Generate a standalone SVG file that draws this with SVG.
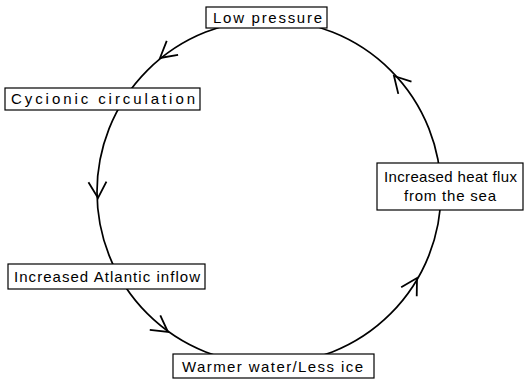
<svg xmlns="http://www.w3.org/2000/svg" width="529" height="382" viewBox="0 0 529 382">
<style>
.box{fill:#fff;stroke:#000;stroke-width:1.2}
.t{font-family:"Liberation Sans","DejaVu Sans",sans-serif;font-size:15px;fill:#000}
.c{fill:none;stroke:#000;stroke-width:1.7}
.ah{fill:none;stroke:#000;stroke-width:1.8;stroke-linejoin:miter}
</style>
<rect width="529" height="382" fill="#fff"/>
<g id="connectors">
<circle class="c" cx="269" cy="192" r="172"/>
<path class="ah" d="M-16,-9 L0,0 L-16,9" transform="translate(160,58) rotate(140.9)"/>
<path class="ah" d="M-16,-9 L0,0 L-16,9" transform="translate(98,198) rotate(88)"/>
<path class="ah" d="M-16,-9 L0,0 L-16,9" transform="translate(168,332) rotate(35.8)"/>
<path class="ah" d="M-16,-9 L0,0 L-16,9" transform="translate(417,278) rotate(-59.8)"/>
<path class="ah" d="M-16,-9 L0,0 L-16,9" transform="translate(394,76) rotate(-132.9)"/>
</g>
<g id="low-pressure">
<rect class="box" x="206" y="7" width="121" height="21"/>
<text class="t" x="213" y="23" textLength="109" lengthAdjust="spacing">Low pressure</text>
</g>
<g id="cyclonic-circulation">
<rect class="box" x="5" y="88" width="195" height="22"/>
<text class="t" x="11" y="104" textLength="184" lengthAdjust="spacing">Cycionic circulation</text>
</g>
<g id="atlantic-inflow">
<rect class="box" x="8" y="264" width="197" height="25"/>
<text class="t" x="14" y="282" textLength="186" lengthAdjust="spacing">Increased Atlantic inflow</text>
</g>
<g id="warmer-water">
<rect class="box" x="173" y="354" width="201" height="24"/>
<text class="t" x="182" y="372" textLength="181" lengthAdjust="spacing">Warmer water/Less ice</text>
</g>
<g id="heat-flux">
<rect class="box" x="377" y="163" width="146" height="47"/>
<text class="t" x="384" y="182" textLength="133" lengthAdjust="spacing">Increased heat flux</text>
<text class="t" x="404" y="201" textLength="92" lengthAdjust="spacing">from the sea</text>
</g>
</svg>
